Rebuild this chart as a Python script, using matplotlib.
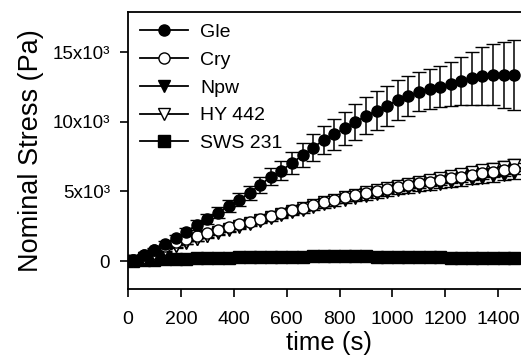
import matplotlib
matplotlib.use("Agg")
import matplotlib.pyplot as plt
import numpy as np

plt.rcParams['font.family'] = ['Liberation Sans', 'DejaVu Sans']

# time points (s)
t = [20, 60, 100, 140, 180, 220, 260, 300, 340, 380, 420, 460, 500, 540, 580,
     620, 660, 700, 740, 780, 820, 860, 900, 940, 980, 1020, 1060, 1100, 1140,
     1180, 1220, 1260, 1300, 1340, 1380, 1420, 1460]

gle = [70, 430, 790, 1220, 1630, 2110, 2590, 3000, 3475, 3960, 4400, 4910, 5470,
       6050, 6500, 7050, 7600, 8150, 8700, 9100, 9550, 10000, 10430, 10810, 11150,
       11580, 11870, 12180, 12350, 12540, 12710, 12950, 13140, 13300, 13380, 13380, 13380]
gle_err = [0, 100, 150, 200, 250, 300, 330, 360, 400, 430, 460, 500, 550, 620, 700,
           780, 850, 950, 1020, 1100, 1180, 1280, 1330, 1380, 1420, 1430, 1420, 1420,
           1450, 1500, 1600, 1750, 1900, 2050, 2200, 2350, 2500]

cry = [50, 450, 790, 1100, 1400, 1600, 1800, 2000, 2220, 2430, 2630, 2820, 3010,
       3220, 3430, 3640, 3840, 4040, 4230, 4410, 4580, 4740, 4890, 5040, 5180, 5320,
       5450, 5580, 5710, 5830, 5950, 6070, 6190, 6310, 6420, 6530, 6640]
npw = [0, 200, 450, 750, 1050, 1300, 1550, 1790, 2020, 2240, 2460, 2670, 2880,
       3090, 3300, 3500, 3700, 3890, 4070, 4240, 4400, 4550, 4700, 4840, 4970, 5100,
       5220, 5340, 5460, 5570, 5680, 5790, 5900, 6000, 6100, 6200, 6300]
hy442 = [0, 220, 480, 780, 1080, 1340, 1590, 1830, 2070, 2300, 2520, 2740, 2960,
         3180, 3400, 3610, 3820, 4020, 4220, 4410, 4590, 4770, 4940, 5100, 5260, 5410,
         5560, 5710, 5850, 5990, 6130, 6260, 6390, 6520, 6650, 6780, 6900]
mid_err = [0, 40, 60, 80, 100, 110, 120, 130, 140, 150, 160, 170, 180, 190, 200,
           210, 220, 230, 240, 250, 260, 270, 280, 290, 300, 310, 320, 330, 340, 350,
           360, 370, 380, 390, 400, 410, 420]

sws = [0, 60, 100, 130, 160, 180, 200, 220, 240, 250, 260, 270, 280, 290, 300, 310,
       320, 330, 340, 350, 350, 340, 330, 320, 310, 300, 290, 280, 270, 260, 250,
       250, 240, 240, 230, 230, 220]
sws_err = [0, 40, 50, 60, 60, 70, 70, 70, 80, 80, 80, 80, 90, 90, 90, 90, 90, 90,
           90, 90, 90, 90, 90, 90, 90, 90, 90, 90, 90, 90, 90, 90, 90, 90, 90, 90, 90]

fig = plt.figure(figsize=(5.21, 3.58), dpi=100)
ax = fig.add_axes([128 / 521, 1 - 289 / 358, 402 / 521, 277 / 358])

common = dict(color='black', lw=1.3, ms=8, capsize=5, elinewidth=1.1,
              capthick=1.1, mew=1.0)
h_sws = ax.errorbar(t, sws, yerr=sws_err, fmt='-s', mfc='black', label='SWS 231', **common)
h_npw = ax.errorbar(t, npw, yerr=mid_err, fmt='-v', mfc='black', label='Npw', **common)
h_hy = ax.errorbar(t, hy442, yerr=mid_err, fmt='-v', mfc='white', label='HY 442', **common)
h_cry = ax.errorbar(t, cry, yerr=mid_err, fmt='-o', mfc='white', label='Cry', **common)
h_gle = ax.errorbar(t, gle, yerr=gle_err, fmt='-o', mfc='black', label='Gle', **common)

ax.set_xlim(0, 1520)
ax.set_ylim(-2010, 17900)
ax.set_xticks([0, 200, 400, 600, 800, 1000, 1200, 1400])
ax.set_yticks([0, 5000, 10000, 15000])
ax.set_yticklabels(['0', '5x10³', '10x10³', '15x10³'], fontsize=13.5)
ax.tick_params(axis='x', labelsize=14, pad=10)
ax.tick_params(axis='y', pad=7)
ax.tick_params(direction='out', length=6, width=1.2)
for s in ax.spines.values():
    s.set_linewidth(1.3)

ax.set_xlabel('time (s)', fontsize=18.5, labelpad=2)
ax.set_ylabel('Nominal Stress (Pa)', fontsize=19.5, labelpad=6)

handles = [h_gle[0], h_cry[0], h_npw[0], h_hy[0], h_sws[0]]
labels = ['Gle', 'Cry', 'Npw', 'HY 442', 'SWS 231']
ax.legend(handles, labels, loc='upper left', bbox_to_anchor=(0.0, 1.0),
          frameon=False, fontsize=14, handlelength=2.5, handletextpad=0.6,
          labelspacing=0.52, borderpad=0.3, borderaxespad=0.3)

fig.savefig('out.png', dpi=100)
